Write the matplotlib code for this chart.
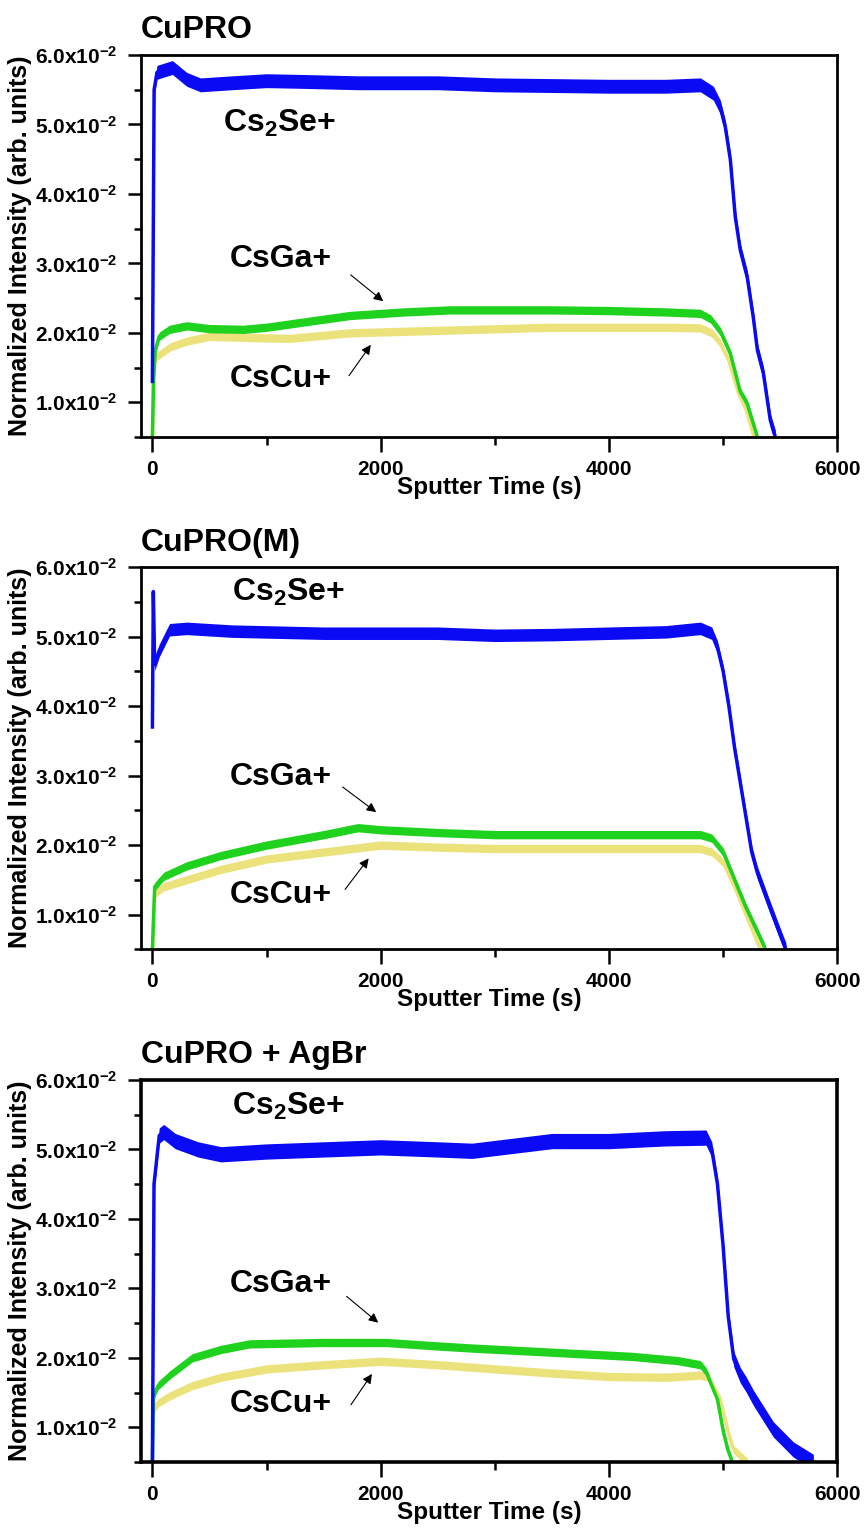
""" plot.py - ToF-SIMS depth profiles of three CIGS absorbers """

import numpy as np
import matplotlib
matplotlib.use("Agg")
import matplotlib.pyplot as plt
from matplotlib.ticker import FixedLocator

plt.rcParams['font.family'] = ['Liberation Sans', 'DejaVu Sans']
plt.rcParams['font.weight'] = 'bold'
plt.rcParams['mathtext.fontset'] = 'custom'
plt.rcParams['mathtext.rm'] = 'Liberation Sans:bold'
plt.rcParams['mathtext.it'] = 'Liberation Sans:bold'
plt.rcParams['mathtext.bf'] = 'Liberation Sans:bold'

###################################################
# Data (intensity in units of 1e-2, time in s)
###################################################

panel_titles = ["CuPRO", "CuPRO(M)", "CuPRO + AgBr"]

# --- CuPRO ---
cupro_se_t = [0, 15, 40, 175, 300, 420, 700, 1000, 1300, 1800, 2500, 3000, 3500,
              4000, 4500, 4800, 4914, 4975, 5019, 5063, 5106, 5150, 5211, 5264,
              5300, 5352, 5413, 5457]
cupro_se_v = [1.30, 5.50, 5.75, 5.82, 5.65, 5.57, 5.60, 5.63, 5.62, 5.60, 5.60,
              5.57, 5.56, 5.55, 5.55, 5.57, 5.45, 5.25, 4.96, 4.49, 3.67, 3.19,
              2.80, 2.22, 1.75, 1.42, 0.74, 0.50]
cupro_ga_t = [0, 10, 25, 60, 150, 300, 500, 800, 1000, 1300, 1734, 2200, 2610,
              3000, 3500, 4000, 4500, 4800, 4890, 4975, 5063, 5150, 5210, 5300]
cupro_ga_v = [0.50, 1.30, 1.75, 1.95, 2.05, 2.10, 2.06, 2.05, 2.08, 2.15, 2.25,
              2.30, 2.33, 2.33, 2.33, 2.32, 2.30, 2.28, 2.20, 2.02, 1.70, 1.15,
              0.98, 0.50]
cupro_cu_t = [0, 10, 30, 160, 300, 500, 900, 1200, 1734, 2610, 3486, 4000, 4500,
              4800, 4900, 4975, 5050, 5130, 5200, 5270]
cupro_cu_v = [0.50, 1.50, 1.65, 1.80, 1.88, 1.95, 1.93, 1.92, 2.00, 2.04, 2.08,
              2.08, 2.08, 2.07, 2.00, 1.85, 1.60, 1.15, 0.90, 0.50]

# --- CuPRO(M) ---
cuprom_se_t = [0, 8, 20, 60, 150, 300, 700, 1500, 2000, 2500, 3000, 3500, 4000,
               4500, 4800, 4900, 4950, 5000, 5050, 5100, 5150, 5200, 5250, 5300,
               5400, 5480, 5550]
cuprom_se_v = [3.70, 5.65, 4.60, 4.80, 5.10, 5.12, 5.08, 5.05, 5.05, 5.05, 5.02,
               5.03, 5.05, 5.07, 5.12, 5.05, 4.85, 4.50, 4.00, 3.40, 2.90, 2.40,
               1.90, 1.60, 1.15, 0.80, 0.50]
cuprom_ga_t = [0, 20, 100, 300, 600, 1000, 1500, 1800, 2000, 2500, 3000, 4000,
               4800, 4900, 5000, 5100, 5200, 5300, 5370]
cuprom_ga_v = [0.50, 1.40, 1.55, 1.70, 1.85, 2.00, 2.15, 2.25, 2.22, 2.18, 2.15,
               2.15, 2.15, 2.10, 1.90, 1.50, 1.10, 0.75, 0.50]
cuprom_cu_t = [0, 20, 100, 300, 600, 1000, 1500, 2000, 2500, 3000, 4000, 4800,
               4900, 5000, 5100, 5200, 5300, 5330]
cuprom_cu_v = [0.50, 1.30, 1.40, 1.50, 1.65, 1.80, 1.90, 2.00, 1.97, 1.95, 1.95,
               1.95, 1.90, 1.75, 1.40, 1.00, 0.60, 0.50]

# --- CuPRO + AgBr ---
agbr_se_t = [0, 14, 60, 100, 200, 400, 600, 1000, 1500, 2000, 2500, 2800, 3000,
             3500, 4000, 4500, 4850, 4900, 4950, 5000, 5044, 5093, 5150, 5200,
             5266, 5439, 5614, 5790]
agbr_se_v = [0.50, 4.50, 5.20, 5.25, 5.12, 5.00, 4.93, 4.97, 5.00, 5.03, 5.00,
             4.98, 5.02, 5.12, 5.12, 5.16, 5.17, 5.00, 4.50, 3.60, 2.60, 1.98,
             1.75, 1.62, 1.42, 0.97, 0.68, 0.50]
agbr_ga_t = [0, 10, 50, 150, 350, 600, 850, 1500, 2050, 2500, 2800, 3500, 4200,
             4600, 4800, 4850, 4950, 5000, 5040, 5080]
agbr_ga_v = [0.50, 1.45, 1.60, 1.75, 2.00, 2.12, 2.20, 2.22, 2.22, 2.17, 2.14,
             2.08, 2.02, 1.96, 1.90, 1.80, 1.40, 0.95, 0.68, 0.50]
agbr_cu_t = [0, 10, 50, 150, 350, 600, 1000, 1500, 2000, 2500, 3000, 3500, 4000,
             4500, 4800, 4870, 4975, 5050, 5090, 5210]
agbr_cu_v = [0.50, 1.25, 1.35, 1.45, 1.60, 1.72, 1.84, 1.90, 1.95, 1.90, 1.84,
             1.78, 1.73, 1.72, 1.75, 1.72, 1.40, 0.90, 0.68, 0.50]

# noise half-width of each trace (1e-2 units)
noise_se = [0.10, 0.09, 0.11]
noise_ga = [0.06, 0.06, 0.06]
noise_cu = [0.06, 0.06, 0.06]

# annotation anchors: (time, intensity) text baselines and arrow ends
label_se = [(620, 4.89), (700, 5.52), (700, 5.50)]
label_ga = [(680, 2.95), (680, 2.86), (680, 2.94)]
label_cu = [(680, 1.22), (680, 1.16), (680, 1.22)]
arrow_ga = [((1717, 2.86), (2041, 2.43)), ((1647, 2.86), (1980, 2.45)),
            ((1682, 2.91), (1997, 2.48))]
arrow_cu = [((1708, 1.35), (1927, 1.86)), ((1673, 1.33), (1909, 1.84)),
            ((1725, 1.29), (1937, 1.80))]

y_ticks = [1, 2, 3, 4, 5, 6]
y_ticklabels = [f"{v:.1f}x10$^{{-2}}$" for v in y_ticks]
x_ticks = [0, 2000, 4000, 6000]

panels = [
    (cupro_se_t, cupro_se_v, cupro_ga_t, cupro_ga_v, cupro_cu_t, cupro_cu_v),
    (cuprom_se_t, cuprom_se_v, cuprom_ga_t, cuprom_ga_v, cuprom_cu_t, cuprom_cu_v),
    (agbr_se_t, agbr_se_v, agbr_ga_t, agbr_ga_v, agbr_cu_t, agbr_cu_v),
]

c_se = "#0A0AF5"
c_ga = "#1ED21E"
c_cu = "#ECE27C"

###################################################
# Figure
###################################################

fig = plt.figure(figsize=(8.65, 15.36), dpi=100)
bottoms = [0.7155, 0.382, 0.0482]
spine_w = [2.0, 2.0, 2.6]

def draw_trace(ax, t, v, noise, color, lw):
    """Plots a trace with its noise band (values scaled by 1e-2)."""
    t = np.array(t, dtype=float)
    v = np.array(v, dtype=float) * 1e-2
    ax.fill_between(t, v - noise * 1e-2, v + noise * 1e-2, color=color, lw=0)
    ax.plot(t, v, color=color, lw=lw, solid_joinstyle='round')

for i, (se_t, se_v, ga_t, ga_v, cu_t, cu_v) in enumerate(panels):
    ax = fig.add_axes([0.163, bottoms[i], 0.805, 0.2487])

    draw_trace(ax, cu_t, cu_v, noise_cu[i], c_cu, 2.5)
    draw_trace(ax, ga_t, ga_v, noise_ga[i], c_ga, 2.5)
    draw_trace(ax, se_t, se_v, noise_se[i], c_se, 2.5)

    ax.set_xlim(-100, 6000)
    ax.set_ylim(0.005, 0.06)

    ax.set_xticks(x_ticks)
    ax.set_xticklabels([str(x) for x in x_ticks], fontsize=15, fontweight='bold')
    ax.xaxis.set_minor_locator(FixedLocator([1000, 3000, 5000]))
    ax.set_yticks([v * 1e-2 for v in y_ticks])
    ax.set_yticklabels(y_ticklabels, fontsize=15, fontweight='bold')
    ax.yaxis.set_minor_locator(FixedLocator([v * 1e-2 for v in
                                             [0.5, 1.5, 2.5, 3.5, 4.5, 5.5]]))

    ax.tick_params(axis='x', which='major', direction='out', length=10.5,
                   width=1.8, pad=6)
    ax.tick_params(axis='x', which='minor', direction='out', length=6, width=1.8)
    ax.tick_params(axis='y', which='major', direction='out', length=9.5,
                   width=1.8, pad=8)
    ax.tick_params(axis='y', which='minor', direction='out', length=5, width=1.8)

    for sp in ax.spines.values():
        sp.set_linewidth(spine_w[i])

    ax.set_title(panel_titles[i], loc='left', fontsize=23, fontweight='bold', pad=12)
    ax.set_xlabel("Sputter Time (s)", fontsize=17.5, fontweight='bold', labelpad=-2)
    ax.set_ylabel("Normalized Intensity (arb. units)", fontsize=18,
                  fontweight='bold', labelpad=2)

    ax.text(label_se[i][0], label_se[i][1] * 1e-2, "Cs$_2$Se+", fontsize=23,
            fontweight='bold', va='baseline', ha='left')
    ax.text(label_ga[i][0], label_ga[i][1] * 1e-2, "CsGa+", fontsize=23,
            fontweight='bold', va='baseline', ha='left')
    ax.text(label_cu[i][0], label_cu[i][1] * 1e-2, "CsCu+", fontsize=23,
            fontweight='bold', va='baseline', ha='left')

    for (p0, p1) in (arrow_ga[i], arrow_cu[i]):
        ax.annotate("", xy=(p1[0], p1[1] * 1e-2), xytext=(p0[0], p0[1] * 1e-2),
                    arrowprops=dict(arrowstyle='-|>', color='black', lw=0.8,
                                    mutation_scale=14))

fig.savefig("out.png", dpi=100)
print("Saved out.png")
